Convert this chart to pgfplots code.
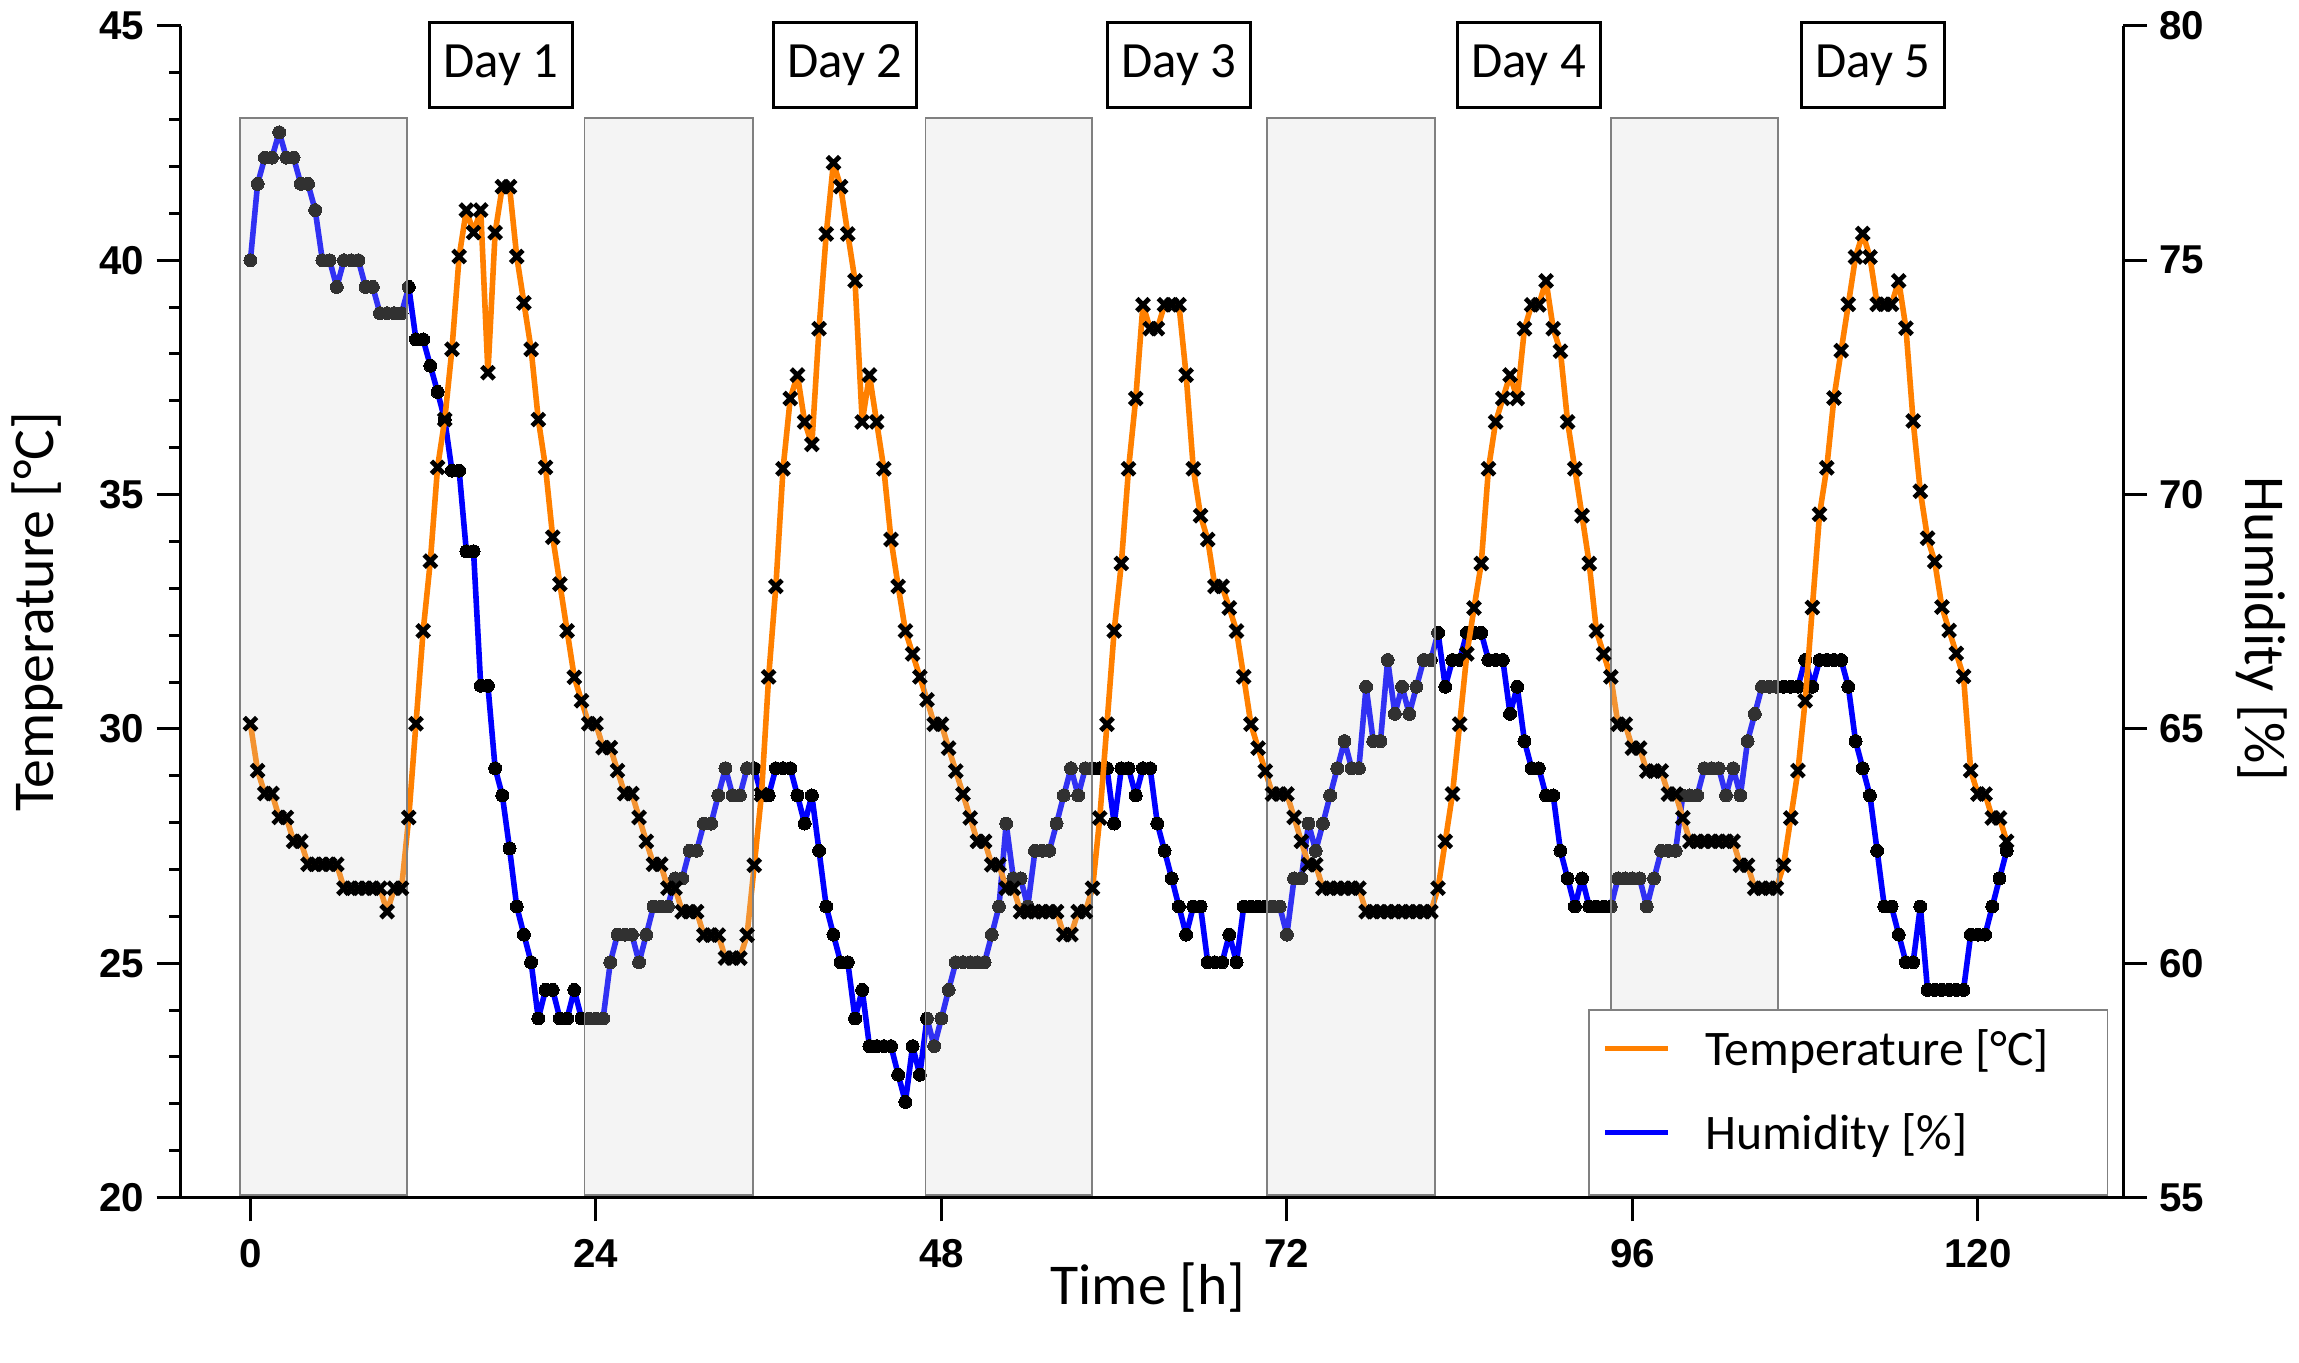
\documentclass[border=0pt]{standalone}
\usepackage{pgfplots}
\pgfplotsset{compat=1.18}
\usepackage{fontspec}
\setmainfont{Carlito}
\newfontfamily\tickfam{Liberation Sans}
\definecolor{tempor}{RGB}{255,128,0}
\definecolor{humbl}{RGB}{0,0,255}
\newcommand{\tickfont}{\tickfam\bfseries\fontsize{11.5}{12}\selectfont}
\newcommand{\labfont}{\fontsize{16.5}{18}\selectfont}
\newcommand{\dayfont}{\fontsize{14.5}{16}\selectfont}
\newcommand{\legfont}{\fontsize{14.2}{16}\selectfont}

\pgfplotstableread{
h T
0 30.11
0.5 29.11
1 28.62
1.5 28.62
2 28.11
2.5 28.11
3 27.60
3.5 27.60
4 27.11
4.5 27.11
5 27.11
5.5 27.11
6 27.11
6.5 26.60
7 26.60
7.5 26.60
8 26.60
8.5 26.60
9 26.60
9.5 26.10
10 26.60
10.5 26.60
11 28.11
11.5 30.11
12 32.09
12.5 33.58
13 35.58
13.5 36.60
14 38.10
14.5 40.08
15 41.07
15.5 40.59
16 41.07
16.5 37.60
17 40.59
17.5 41.57
18 41.57
18.5 40.08
19 39.09
19.5 38.10
20 36.60
20.5 35.58
21 34.09
21.5 33.09
22 32.09
22.5 31.10
23 30.60
23.5 30.11
24 30.11
24.5 29.60
25 29.60
25.5 29.11
26 28.62
26.5 28.62
27 28.11
27.5 27.60
28 27.11
28.5 27.11
29 26.60
29.5 26.60
30 26.10
30.5 26.10
31 26.10
31.5 25.60
32 25.60
32.5 25.60
33 25.11
33.5 25.11
34 25.11
34.5 25.60
35 27.09
35.5 28.60
36 31.11
36.5 33.04
37 35.55
37.5 37.05
38 37.55
38.5 36.55
39 36.07
39.5 38.54
40 40.56
40.5 42.08
41 41.57
41.5 40.56
42 39.56
42.5 36.55
43 37.55
43.5 36.55
44 35.55
44.5 34.04
45 33.04
45.5 32.09
46 31.60
46.5 31.11
47 30.62
47.5 30.10
48 30.10
48.5 29.59
49 29.10
49.5 28.61
50 28.10
50.5 27.60
51 27.60
51.5 27.10
52 27.10
52.5 26.60
53 26.60
53.5 26.10
54 26.10
54.5 26.10
55 26.10
55.5 26.10
56 26.10
56.5 25.61
57 25.61
57.5 26.10
58 26.10
58.5 26.60
59 28.10
59.5 30.10
60 32.09
60.5 33.53
61 35.55
61.5 37.05
62 39.05
62.5 38.54
63 38.54
63.5 39.05
64 39.05
64.5 39.05
65 37.55
65.5 35.55
66 34.55
66.5 34.04
67 33.04
67.5 33.04
68 32.58
68.5 32.09
69 31.11
69.5 30.10
70 29.59
70.5 29.10
71 28.61
71.5 28.61
72 28.61
72.5 28.11
73 27.60
73.5 27.10
74 27.10
74.5 26.60
75 26.60
75.5 26.60
76 26.60
76.5 26.60
77 26.60
77.5 26.10
78 26.10
78.5 26.10
79 26.10
79.5 26.10
80 26.10
80.5 26.10
81 26.10
81.5 26.10
82 26.10
82.5 26.60
83 27.60
83.5 28.61
84 30.10
84.5 31.60
85 32.58
85.5 33.53
86 35.55
86.5 36.55
87 37.05
87.5 37.55
88 37.05
88.5 38.54
89 39.05
89.5 39.05
90 39.56
90.5 38.54
91 38.06
91.5 36.55
92 35.55
92.5 34.55
93 33.53
93.5 32.09
94 31.60
94.5 31.11
95 30.10
95.5 30.10
96 29.59
96.5 29.59
97 29.10
97.5 29.10
98 29.10
98.5 28.61
99 28.61
99.5 28.10
100 27.60
100.5 27.60
101 27.60
101.5 27.60
102 27.60
102.5 27.60
103 27.60
103.5 27.09
104 27.09
104.5 26.60
105 26.60
105.5 26.60
106 26.60
106.5 27.09
107 28.10
107.5 29.11
108 30.60
108.5 32.59
109 34.58
109.5 35.57
110 37.06
110.5 38.07
111 39.06
111.5 40.07
112 40.57
112.5 40.07
113 39.06
113.5 39.06
114 39.06
114.5 39.56
115 38.55
115.5 36.57
116 35.07
116.5 34.07
117 33.57
117.5 32.60
118 32.10
118.5 31.61
119 31.12
119.5 29.11
120 28.61
120.5 28.61
121 28.10
121.5 28.10
122 27.60
}\temptable

\pgfplotstableread{
h H
0 75.00
0.5 76.63
1 77.19
1.5 77.19
2 77.73
2.5 77.19
3 77.19
3.5 76.63
4 76.63
4.5 76.07
5 75.00
5.5 75.00
6 74.43
6.5 75.00
7 75.00
7.5 75.00
8 74.43
8.5 74.43
9 73.87
9.5 73.87
10 73.87
10.5 73.87
11 74.43
11.5 73.31
12 73.31
12.5 72.75
13 72.19
13.5 71.60
14 70.51
14.5 70.51
15 68.79
15.5 68.79
16 65.92
16.5 65.92
17 64.16
17.5 63.58
18 62.45
18.5 61.21
19 60.61
19.5 60.02
20 58.82
20.5 59.43
21 59.43
21.5 58.82
22 58.82
22.5 59.43
23 58.82
23.5 58.82
24 58.82
24.5 58.82
25 60.02
25.5 60.61
26 60.61
26.5 60.61
27 60.02
27.5 60.61
28 61.21
28.5 61.21
29 61.21
29.5 61.81
30 61.81
30.5 62.40
31 62.40
31.5 62.98
32 62.98
32.5 63.58
33 64.16
33.5 63.58
34 63.58
34.5 64.16
35 64.16
35.5 63.58
36 63.58
36.5 64.16
37 64.16
37.5 64.16
38 63.58
38.5 62.98
39 63.58
39.5 62.40
40 61.21
40.5 60.61
41 60.02
41.5 60.02
42 58.82
42.5 59.43
43 58.23
43.5 58.23
44 58.23
44.5 58.23
45 57.62
45.5 57.04
46 58.23
46.5 57.62
47 58.82
47.5 58.23
48 58.82
48.5 59.43
49 60.02
49.5 60.02
50 60.02
50.5 60.02
51 60.02
51.5 60.61
52 61.21
52.5 62.98
53 61.81
53.5 61.81
54 61.21
54.5 62.40
55 62.40
55.5 62.40
56 62.98
56.5 63.58
57 64.16
57.5 63.58
58 64.16
58.5 64.16
59 64.16
59.5 64.16
60 62.98
60.5 64.16
61 64.16
61.5 63.58
62 64.16
62.5 64.16
63 62.98
63.5 62.40
64 61.81
64.5 61.21
65 60.61
65.5 61.21
66 61.21
66.5 60.02
67 60.02
67.5 60.02
68 60.61
68.5 60.02
69 61.21
69.5 61.21
70 61.21
70.5 61.21
71 61.21
71.5 61.21
72 60.61
72.5 61.81
73 61.81
73.5 62.98
74 62.40
74.5 62.98
75 63.58
75.5 64.16
76 64.74
76.5 64.16
77 64.16
77.5 65.90
78 64.74
78.5 64.74
79 66.47
79.5 65.32
80 65.90
80.5 65.32
81 65.90
81.5 66.47
82 66.47
82.5 67.05
83 65.90
83.5 66.47
84 66.47
84.5 67.05
85 67.05
85.5 67.05
86 66.47
86.5 66.47
87 66.47
87.5 65.32
88 65.90
88.5 64.74
89 64.16
89.5 64.16
90 63.58
90.5 63.58
91 62.40
91.5 61.81
92 61.21
92.5 61.81
93 61.21
93.5 61.21
94 61.21
94.5 61.21
95 61.81
95.5 61.81
96 61.81
96.5 61.81
97 61.21
97.5 61.81
98 62.40
98.5 62.40
99 62.40
99.5 63.58
100 63.58
100.5 63.58
101 64.16
101.5 64.16
102 64.16
102.5 63.58
103 64.16
103.5 63.58
104 64.74
104.5 65.32
105 65.90
105.5 65.90
106 65.90
106.5 65.90
107 65.90
107.5 65.90
108 66.47
108.5 65.90
109 66.47
109.5 66.47
110 66.47
110.5 66.47
111 65.90
111.5 64.74
112 64.16
112.5 63.58
113 62.40
113.5 61.21
114 61.21
114.5 60.61
115 60.02
115.5 60.02
116 61.21
116.5 59.43
117 59.43
117.5 59.43
118 59.43
118.5 59.43
119 59.43
119.5 60.61
120 60.61
120.5 60.61
121 61.21
121.5 61.81
122 62.40
}\humtable

\pgfplotsset{
  commonax/.style={
    scale only axis, width=195mm, height=117.6mm,
    xmin=-4.85, xmax=130.1,
    tick align=outside,
    major tick length=2.4mm, minor tick length=1.15mm,
    every tick/.style={black, line width=0.85pt},
    axis line style={line width=0.85pt, -},
    tick label style={font=\tickfont},
    /pgf/number format/assume math mode=true,
    clip=false,
  },
}
\tikzset{
  night/.style={fill=black!18, fill opacity=0.24, draw=gray, draw opacity=1, line width=0.5pt},
  daybox/.style={draw=black, line width=0.85pt, minimum width=14.35mm, minimum height=8.5mm, inner sep=0pt, font=\dayfont},
}

\begin{document}
\begin{tikzpicture}
% Humidity axis (right)
\begin{axis}[commonax,
  axis x line=none, axis y line*=right,
  ymin=55, ymax=80, ytick={55,60,65,70,75,80}, minor ytick={},
  ylabel={Humidity [\%]},
  every axis y label/.style={at={(axis description cs:1.0713,0.485)}, anchor=center, rotate=-90, font=\labfont},
]
\addplot[humbl, line width=1.6pt, line join=round, mark=*, mark size=0.65mm,
  mark options={fill=black, draw=black, line width=0pt}] table[x=h, y=H] {\humtable};
\end{axis}
% Temperature axis (left) on top
\begin{axis}[commonax,
  axis x line*=bottom, axis y line*=left,
  ymin=20, ymax=45, ytick={20,25,30,35,40,45}, minor y tick num=4,
  xtick={0,24,48,72,96,120}, minor xtick={},
  xticklabel style={yshift=-0.6mm},
  xlabel={Time [h]}, ylabel={Temperature [°C]},
  every axis x label/.style={at={(axis description cs:0.498,-0.0766)}, anchor=center, font=\labfont},
  every axis y label/.style={at={(axis description cs:-0.0738,0.5)}, anchor=center, rotate=90, font=\labfont},
]
\addplot[tempor, line width=1.6pt, line join=round, mark=x, mark size=0.88mm,
  mark options={draw=black, line width=1.35pt, solid}] table[x=h, y=T] {\temptable};
% night shading (semi-transparent, on top of the data)
\draw[night] (axis cs:-0.7,20.05) rectangle (axis cs:10.9,43.04);
\draw[night] (axis cs:23.2,20.05) rectangle (axis cs:34.9,43.04);
\draw[night] (axis cs:46.9,20.05) rectangle (axis cs:58.45,43.04);
\draw[night] (axis cs:70.6,20.05) rectangle (axis cs:82.3,43.04);
\draw[night] (axis cs:94.5,20.05) rectangle (axis cs:106.1,43.04);
% day labels
\node[daybox] at (axis cs:17.4,44.16) {Day 1};
\node[daybox] at (axis cs:41.3,44.16) {Day 2};
\node[daybox] at (axis cs:64.5,44.16) {Day 3};
\node[daybox] at (axis cs:88.8,44.16) {Day 4};
\node[daybox] at (axis cs:112.7,44.16) {Day 5};
% legend
\draw[gray, line width=0.5pt, fill=white] (axis cs:92.96,20.05) rectangle (axis cs:129.0,24.0);
\draw[tempor, line width=1.5pt] (axis cs:94.1,23.18) -- (axis cs:98.5,23.18);
\draw[humbl, line width=1.5pt] (axis cs:94.1,21.39) -- (axis cs:98.5,21.39);
\node[anchor=west, inner sep=0pt, font=\legfont] at (axis cs:101.0,23.12) {Temperature [°C]};
\node[anchor=west, inner sep=0pt, font=\legfont] at (axis cs:101.0,21.32) {Humidity [\%]};
% picture extent
\path (axis cs:-17.02,16.47) rectangle (axis cs:142.08,45.53);
\end{axis}
\end{tikzpicture}
\end{document}
